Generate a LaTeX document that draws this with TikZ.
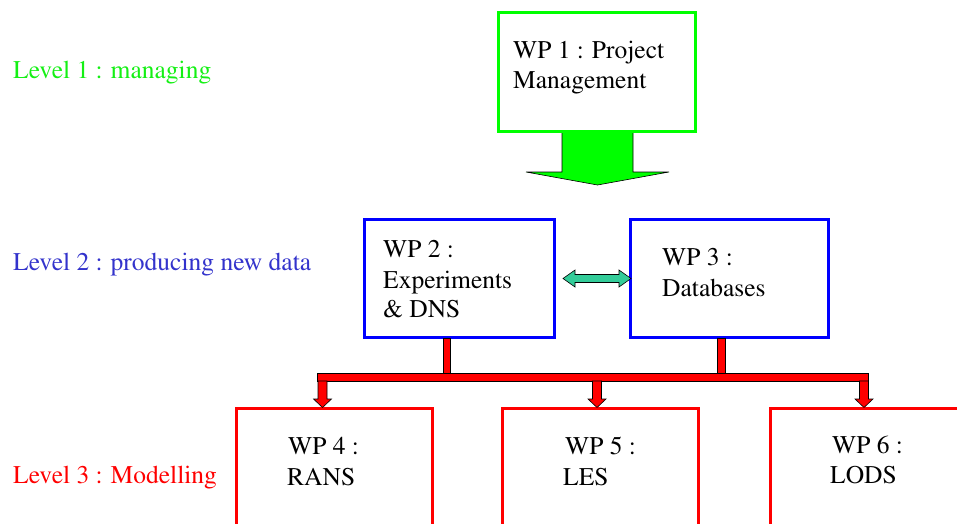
\documentclass[tikz,border=0pt]{standalone}
\usepackage[T1]{fontenc}
\usepackage{times}
\definecolor{lgreen}{RGB}{0,255,0}
\definecolor{tgreen}{RGB}{20,240,20}
\definecolor{lblue}{RGB}{51,51,204}
\definecolor{bblue}{RGB}{0,0,255}
\definecolor{lred}{RGB}{255,0,0}
\definecolor{tealarrow}{RGB}{51,204,153}
\begin{document}
\begin{tikzpicture}[x=1pt,y=-1pt,
  wpbox/.style={draw=#1, line width=3pt, inner sep=0pt, outer sep=0pt, fill=white},
  txt/.style={anchor=base west, inner sep=0pt, font=\rmfamily\fontsize{25.5}{30}\selectfont, text=black},
  lvl/.style={anchor=base west, inner sep=0pt, font=\rmfamily\fontsize{25.5}{30}\selectfont},
  blockarrow/.style={draw=black, line width=0.6pt, line join=miter}]
\clip (0,0) rectangle (957,523);
\fill[white] (0,0) rectangle (957,523);

% level labels
\node[lvl, text=tgreen] (l1) at (13,78) {Level 1 : managing};
\node[lvl, text=lblue] (l2) at (13,270) {Level 2 : producing new data};
\node[lvl, text=lred] (l3) at (13,483) {Level 3 : Modelling};

% green block arrow
\filldraw[blockarrow, fill=lgreen] (562,131) -- (562,172) -- (526,172) -- (597.5,185)
  -- (669,172) -- (633,172) -- (633,131) -- cycle;

% boxes
\node[wpbox=lgreen, minimum width=197pt, minimum height=119.5pt] (wp1) at (597,71.75) {};
\node[wpbox=bblue, minimum width=190pt, minimum height=118pt] (wp2) at (459,278) {};
\node[wpbox=bblue, minimum width=198pt, minimum height=118pt] (wp3) at (729,278) {};
\node[wpbox=lred, minimum width=196.5pt, minimum height=140pt] (wp4) at (334.25,478) {};
\node[wpbox=lred, minimum width=196pt, minimum height=140pt] (wp5) at (600,478) {};
\node[wpbox=lred, minimum width=200pt, minimum height=140pt] (wp6) at (870,478) {};

% teal double arrow between wp2 and wp3
\filldraw[blockarrow, fill=tealarrow] (563,278.5) -- (575,270) -- (575,274.5) -- (619,274.5)
  -- (619,270) -- (631,278.5) -- (619,287) -- (619,282.5) -- (575,282.5) -- (575,287) -- cycle;

% red bus
\filldraw[blockarrow, fill=lred] (443,338.5) rectangle (450,373);
\filldraw[blockarrow, fill=lred] (717,338.5) rectangle (725,373);
\filldraw[blockarrow, fill=lred] (317.5,373) rectangle (868.5,381);
\foreach \cx in {322.5,597,864} {
  \filldraw[blockarrow, fill=lred] (\cx-4.5,381) -- (\cx-4.5,399) -- (\cx-9,399) -- (\cx,407.5)
    -- (\cx+9,399) -- (\cx+4.5,399) -- (\cx+4.5,381) -- cycle;
}

% box texts
\node[txt] (t1a) at (513,58) {WP 1 : Project};
\node[txt] (t1b) at (513,88) {Management};
\node[txt] (t2a) at (383,257) {WP 2 :};
\node[txt] (t2b) at (383,288) {Experiments};
\node[txt] (t2c) at (383,317) {\& DNS};
\node[txt] (t3a) at (662,265) {WP 3 :};
\node[txt] (t3b) at (662,296) {Databases};
\node[txt] (t4a) at (288,454) {WP 4 :};
\node[txt] (t4b) at (287,485) {RANS};
\node[txt] (t5a) at (565,454) {WP 5 :};
\node[txt] (t5b) at (563,485) {LES};
\node[txt] (t6a) at (832,453) {WP 6 :};
\node[txt] (t6b) at (830,483) {LODS};
\end{tikzpicture}
\end{document}
